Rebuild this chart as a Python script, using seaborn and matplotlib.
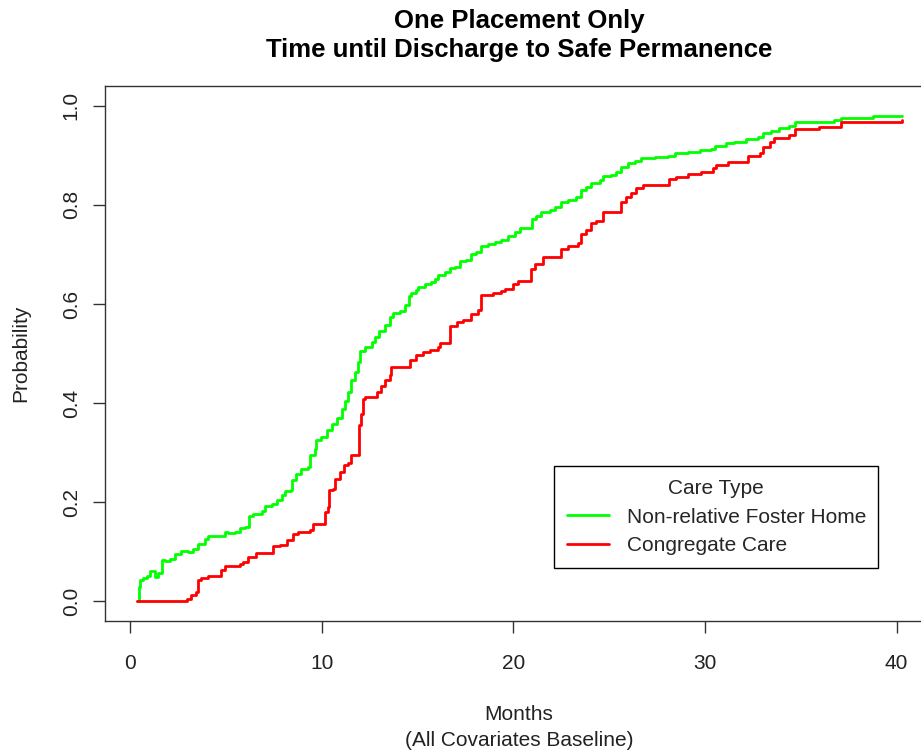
import matplotlib
matplotlib.use("Agg")
import matplotlib.pyplot as plt
import seaborn as sns
import pandas as pd

# ---- data ----
foster_months = [0.35, 0.47, 0.52, 0.69, 0.87, 1.04, 1.30, 1.48, 1.65, 1.82, 2.09, 2.35, 2.69, 3.04,
                 3.30, 3.56, 3.91, 4.08, 4.95, 5.13, 5.47, 5.74, 6.00, 6.20, 6.43, 6.87, 7.04, 7.39,
                 7.65, 7.91, 8.08, 8.39, 8.48, 8.69, 8.95, 9.30, 9.42, 9.65, 9.70, 9.99, 10.26, 10.52,
                 10.78, 11.04, 11.21, 11.38, 11.56, 11.73, 11.90, 11.99, 12.25, 12.63, 12.81, 12.98,
                 13.30, 13.56, 13.73, 14.08, 14.34, 14.55, 14.69, 14.95, 15.03, 15.38, 15.73, 15.90,
                 16.07, 16.42, 16.68, 16.94, 17.21, 17.56, 17.78, 18.07, 18.34, 18.68, 19.03, 19.38,
                 19.72, 20.07, 20.33, 20.98, 21.20, 21.47, 21.90, 22.16, 22.51, 22.85, 23.29, 23.55,
                 23.81, 24.07, 24.50, 24.68, 25.11, 25.38, 25.60, 25.98, 26.33, 26.68, 27.37, 28.07,
                 28.42, 29.11, 29.72, 30.33, 30.50, 31.11, 31.54, 32.15, 32.76, 33.02, 33.46, 33.89,
                 34.41, 34.70, 36.76, 37.10, 38.76, 40.27]
foster_probs = [0.000, 0.029, 0.042, 0.046, 0.051, 0.061, 0.049, 0.057, 0.083, 0.081, 0.085, 0.095,
                0.101, 0.099, 0.106, 0.116, 0.126, 0.131, 0.140, 0.138, 0.140, 0.148, 0.150, 0.171,
                0.175, 0.183, 0.192, 0.197, 0.204, 0.214, 0.222, 0.225, 0.245, 0.256, 0.266, 0.271,
                0.296, 0.308, 0.325, 0.331, 0.346, 0.358, 0.370, 0.388, 0.405, 0.422, 0.446, 0.462,
                0.482, 0.505, 0.513, 0.523, 0.533, 0.546, 0.558, 0.573, 0.581, 0.585, 0.597, 0.617,
                0.622, 0.628, 0.635, 0.641, 0.644, 0.651, 0.659, 0.664, 0.672, 0.674, 0.686, 0.689,
                0.701, 0.704, 0.718, 0.721, 0.726, 0.729, 0.738, 0.745, 0.753, 0.772, 0.778, 0.785,
                0.790, 0.796, 0.805, 0.810, 0.815, 0.830, 0.837, 0.845, 0.850, 0.859, 0.861, 0.866,
                0.877, 0.884, 0.889, 0.894, 0.896, 0.898, 0.904, 0.907, 0.911, 0.912, 0.918, 0.925,
                0.926, 0.934, 0.938, 0.945, 0.950, 0.956, 0.960, 0.968, 0.971, 0.976, 0.980, 0.980]

congregate_months = [0.35, 3.00, 3.21, 3.47, 3.56, 3.73, 4.08, 4.73, 4.95, 5.74, 5.90, 6.17, 6.60,
                     7.47, 7.82, 8.17, 8.51, 8.78, 9.42, 9.56, 10.17, 10.34, 10.38, 10.60, 10.69,
                     10.95, 11.18, 11.38, 11.56, 11.95, 12.04, 12.16, 12.25, 12.90, 13.09, 13.33,
                     13.56, 13.61, 14.60, 14.95, 15.29, 15.64, 16.07, 16.20, 16.68, 17.08, 17.38,
                     17.78, 18.16, 18.34, 18.94, 19.38, 19.55, 19.99, 20.25, 20.94, 21.12, 21.55,
                     22.51, 22.85, 23.37, 23.55, 23.81, 24.07, 24.33, 24.68, 25.60, 25.90, 26.16,
                     26.42, 26.77, 28.15, 28.50, 29.11, 29.81, 30.41, 30.59, 31.19, 32.24, 32.85,
                     33.02, 33.37, 33.63, 34.41, 34.70, 35.97, 37.10, 40.23, 40.27]
congregate_probs = [0.000, 0.005, 0.012, 0.018, 0.042, 0.046, 0.050, 0.062, 0.071, 0.075, 0.080,
                    0.090, 0.097, 0.111, 0.114, 0.123, 0.136, 0.140, 0.143, 0.155, 0.180, 0.190,
                    0.225, 0.227, 0.247, 0.261, 0.274, 0.279, 0.296, 0.355, 0.378, 0.409, 0.412,
                    0.422, 0.435, 0.447, 0.456, 0.472, 0.487, 0.496, 0.503, 0.507, 0.514, 0.521,
                    0.556, 0.563, 0.568, 0.580, 0.588, 0.619, 0.622, 0.627, 0.630, 0.641, 0.647,
                    0.671, 0.681, 0.694, 0.711, 0.718, 0.724, 0.742, 0.749, 0.763, 0.767, 0.785,
                    0.805, 0.815, 0.825, 0.835, 0.841, 0.853, 0.857, 0.862, 0.867, 0.874, 0.880,
                    0.887, 0.898, 0.904, 0.916, 0.927, 0.936, 0.941, 0.953, 0.958, 0.967, 0.967,
                    0.972]

care_types = ["Non-relative Foster Home", "Congregate Care"]
care_colors = ["#00FF00", "#FF0000"]
x_ticks = [0, 10, 20, 30, 40]
y_ticks = [0.0, 0.2, 0.4, 0.6, 0.8, 1.0]

df = pd.concat([
    pd.DataFrame({"Months": foster_months, "Probability": foster_probs, "Care Type": care_types[0]}),
    pd.DataFrame({"Months": congregate_months, "Probability": congregate_probs, "Care Type": care_types[1]}),
], ignore_index=True)

sns.set_theme(style="white")
plt.rcParams["font.family"] = ["Liberation Sans", "DejaVu Sans"]

FS = 15
fig = plt.figure(figsize=(9.21, 7.54), dpi=100)
ax = fig.add_axes([105 / 921, (754 - 621) / 754, (933 - 105) / 921, (621 - 86) / 754])

sns.lineplot(data=df, x="Months", y="Probability", hue="Care Type", hue_order=care_types,
             palette=dict(zip(care_types, care_colors)), estimator=None, sort=False,
             drawstyle="steps-post", linewidth=2.0, ax=ax)

ax.set_xlim(-1.3, 41.9)
ax.set_ylim(-0.04, 1.04)
ax.set_xticks(x_ticks)
ax.set_xticklabels([str(v) for v in x_ticks])
ax.set_yticks(y_ticks)
ax.set_yticklabels([f"{v:.1f}" for v in y_ticks], rotation=90, va="center")

for s in ax.spines.values():
    s.set_color("#333333")
    s.set_linewidth(1.0)
ax.tick_params(axis="both", direction="out", length=8.5, width=1.0, color="#333333",
               labelsize=FS, labelcolor="#222222")
ax.tick_params(axis="x", pad=15, bottom=True)
ax.tick_params(axis="y", pad=9, left=True)

ax.set_xlabel("Months\n(All Covariates Baseline)", fontsize=FS, color="#222222", linespacing=1.5)
ax.xaxis.set_label_coords(0.5, -0.157)
ax.xaxis.label.set_va("top")
ax.set_ylabel("Probability", fontsize=FS, color="#222222")
ax.yaxis.set_label_coords(-(105 - 21) / 828, 0.5)
ax.yaxis.label.set_va("center")

ax.set_title("One Placement Only\nTime until Discharge to Safe Permanence",
             fontsize=18.5, fontweight="bold", color="black", pad=21, linespacing=1.25)

sns.move_legend(ax, "lower left", bbox_to_anchor=((554 - 105) / 828, (621 - 568) / 535, (878 - 554) / 828, 0.19),
                mode="expand", title="Care Type", frameon=True, fancybox=False, fontsize=FS,
                title_fontsize=FS, handlelength=2.0, handletextpad=0.9, labelspacing=0.45,
                borderpad=0.62, borderaxespad=0)
leg = ax.get_legend()
leg.get_frame().set_edgecolor("black")
leg.get_frame().set_linewidth(1.0)
leg.get_frame().set_alpha(1)
for line in leg.get_lines():
    line.set_linewidth(2.0)

fig.savefig("out.png", dpi=100)
